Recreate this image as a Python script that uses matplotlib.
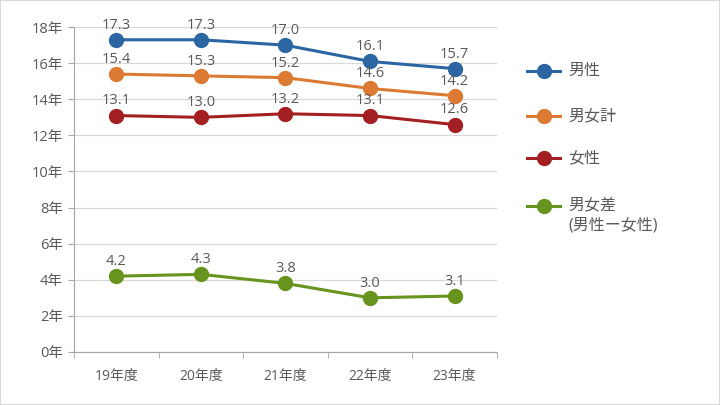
import matplotlib
matplotlib.use("Agg")
import matplotlib.pyplot as plt
from matplotlib.lines import Line2D
from matplotlib.patches import Rectangle

plt.rcParams['font.family'] = ['Open Sans', 'Noto Sans CJK JP', 'DejaVu Sans']

categories = ["19年度", "20年度", "21年度", "22年度", "23年度"]
male = [17.3, 17.3, 17.0, 16.1, 15.7]
total = [15.4, 15.3, 15.2, 14.6, 14.2]
female = [13.1, 13.0, 13.2, 13.1, 12.6]
diff = [4.2, 4.3, 3.8, 3.0, 3.1]
yticks = [0, 2, 4, 6, 8, 10, 12, 14, 16, 18]
ytick_labels = [f"{v}年" for v in yticks]

series = [
    ("男性", male, "#2b66a3"),
    ("男女計", total, "#dc7a33"),
    ("女性", female, "#a41f22"),
    ("男女差\n(男性ー女性)", diff, "#67941f"),
]

text_color = "#595959"
fig = plt.figure(figsize=(7.2, 4.05), dpi=100)
fig.patches.append(Rectangle((0, 0), 1, 1, transform=fig.transFigure,
                             fill=False, edgecolor="#d9d9d9", linewidth=1.5))
ax = fig.add_axes([0.103, 0.131, 0.587, 0.802])

x = list(range(len(categories)))
for name, vals, col in series:
    ax.plot(x, vals, color=col, linewidth=2.2, marker='o', markersize=10,
            solid_capstyle='round', zorder=3)
    for xi, v in zip(x, vals):
        ax.annotate(f"{v:.1f}", (xi, v), xytext=(0, 10.5), textcoords='offset points',
                    ha='center', va='center', fontsize=10.5, color=text_color)

ax.set_xlim(-0.5, 4.5)
ax.set_ylim(0, 18)
ax.set_yticks(yticks)
ax.set_yticklabels(ytick_labels)
ax.set_xticks(x)
ax.set_xticklabels(categories)
ax.set_xticks([i - 0.5 for i in range(len(categories) + 1)], minor=True)
ax.tick_params(axis='x', which='major', length=0, pad=12, labelsize=10, colors=text_color)
ax.tick_params(axis='x', which='minor', length=4, color="#a6a6a6")
ax.tick_params(axis='y', length=4, color="#a6a6a6", labelsize=10.5, colors=text_color, pad=4)
ax.grid(axis='y', color="#d9d9d9", linewidth=0.9)
ax.set_axisbelow(True)
for s in ['top', 'right']:
    ax.spines[s].set_visible(False)
ax.spines['left'].set_color("#a6a6a6")
ax.spines['bottom'].set_color("#a6a6a6")

# legend drawn manually in figure pixel coordinates
leg_y = [71, 116, 158, 206]
W, H = 720, 405
for (name, vals, col), yp in zip(series, leg_y):
    yf = 1 - yp / H
    fig.add_artist(Line2D([527 / W, 560 / W], [yf, yf], color=col, linewidth=2.2,
                          transform=fig.transFigure))
    fig.add_artist(Line2D([543.5 / W], [yf], color=col, marker='o', markersize=10,
                          transform=fig.transFigure))
    lines = name.split("\n")
    for k, ln in enumerate(lines):
        fig.text(568 / W, 1 - (yp + k * 19) / H, ln, ha='left', va='center',
                 fontsize=11.5, color=text_color)

fig.savefig("out.png", dpi=100)
